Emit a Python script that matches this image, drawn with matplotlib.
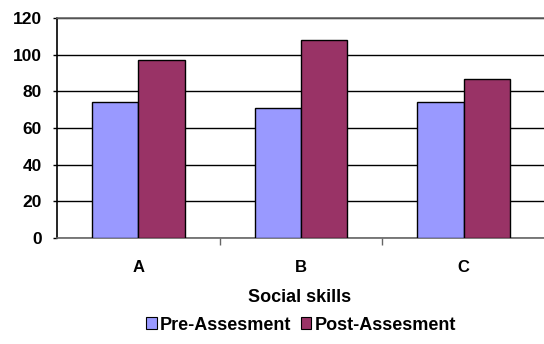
import numpy as np
import matplotlib
matplotlib.use("Agg")
import matplotlib.pyplot as plt
from matplotlib.patches import Patch

# data
categories = ["A", "B", "C"]
pre_values = [74, 71, 74]
post_values = [97, 108, 87]
y_ticks = [0, 20, 40, 60, 80, 100, 120]

plt.rcParams["font.family"] = ["Liberation Sans", "DejaVu Sans"]
plt.rcParams["font.weight"] = "bold"

col_pre = "#9999FF"
col_post = "#993366"

fig = plt.figure(figsize=(5.44, 3.44), dpi=100)
ax = fig.add_axes([57 / 544, 106 / 344, 488 / 544, 220 / 344])

x = np.arange(len(categories))
w = 1 / 3.5
ax.bar(x - w / 2, pre_values, w, color=col_pre, edgecolor="black", linewidth=1, zorder=3)
ax.bar(x + w / 2, post_values, w, color=col_post, edgecolor="black", linewidth=1, zorder=3)

ax.set_xlim(-0.5, 2.5)
ax.set_ylim(0, 120)
ax.set_yticks(y_ticks)
ax.set_yticklabels([str(v) for v in y_ticks], fontsize=12.5, fontweight="bold")
ax.yaxis.grid(True, color="black", linewidth=1, zorder=0)
ax.set_axisbelow(True)

ax.set_xticks(x)
ax.set_xticklabels(categories, fontsize=12, fontweight="bold")
ax.tick_params(axis="x", which="major", length=0, pad=16)
ax.set_xticks([0.5, 1.5], minor=True)
ax.tick_params(axis="x", which="minor", length=5, width=1, color="#666666", direction="out")
ax.tick_params(axis="y", length=3, width=1, pad=8)

ax.spines["left"].set_color("black")
ax.spines["bottom"].set_color("#666666")
ax.spines["top"].set_color("#666666")
ax.spines["right"].set_visible(False)
for s in ax.spines.values():
    s.set_linewidth(1.2)

fig.text(300 / 544, 1 - 298 / 344, "Social skills", ha="center", va="center",
         fontsize=13, fontweight="bold")

handles = [Patch(facecolor=col_pre, edgecolor="black", linewidth=0.8),
           Patch(facecolor=col_post, edgecolor="black", linewidth=0.8)]
fig.legend(handles, ["Pre-Assesment", "Post-Assesment"], loc="center",
           bbox_to_anchor=(301 / 544, 1 - 325 / 344), ncol=2, frameon=False,
           handlelength=0.6, handleheight=0.6, handletextpad=0.2,
           columnspacing=0.5, prop={"weight": "bold", "size": 13})

fig.savefig("out.png", dpi=100)
